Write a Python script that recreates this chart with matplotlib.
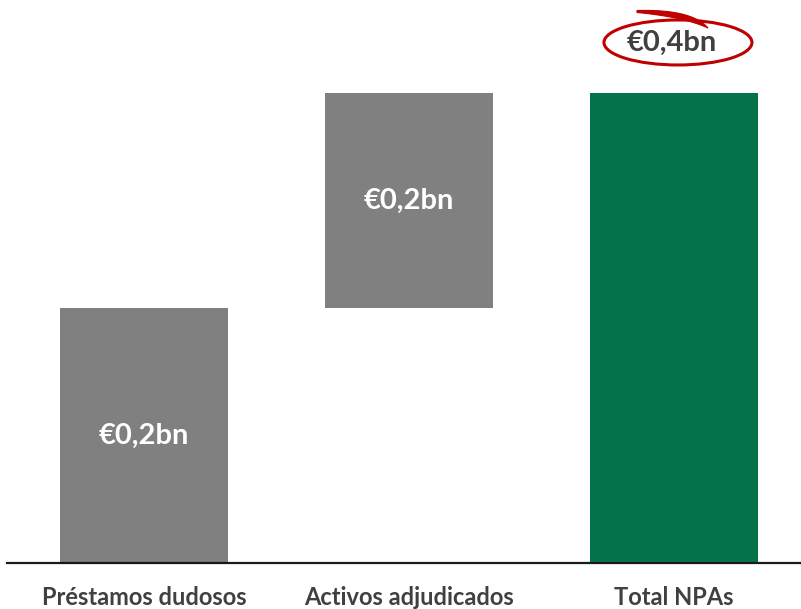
import matplotlib
matplotlib.use("Agg")
import numpy as np
import matplotlib.pyplot as plt
from matplotlib.patches import Ellipse

plt.rcParams['font.family'] = ['Lato', 'DejaVu Sans']

# data
categories = ["Préstamos dudosos", "Activos adjudicados", "Total NPAs"]
values = [0.217, 0.183, 0.4]
bottoms = [0, 0.217, 0]
bar_labels = ["€0,2bn", "€0,2bn", None]
total_label = "€0,4bn"
colors = ["#808080", "#808080", "#04734A"]

fig = plt.figure(figsize=(8.01, 6.09), dpi=100)
ax = fig.add_axes([7 / 801, 46 / 609, 794 / 801, 563 / 609])

x = range(len(categories))
ax.bar(x, values, bottom=bottoms, width=168 / 265, color=colors)

for i in x:
    if bar_labels[i]:
        ax.text(i, bottoms[i] + values[i] / 2, bar_labels[i], ha="center", va="center",
                color="white", fontsize=21, fontweight="bold")
    ax.text(i, -0.029, categories[i], ha="center", va="center",
            color="#404040", fontsize=17, fontweight="bold")

# total label with red hand-drawn ellipse
ty = values[2] + 0.043
ax.text(1.99, ty, total_label, ha="center", va="center", color="#404040",
        fontsize=21, fontweight="bold")
ax.add_patch(Ellipse((2.015, ty), 148 / 265, 0.4 * 45 / 470, fill=False,
                     edgecolor="#C00000", lw=2.2))


# swoosh (pixel coords from the top-left, turned into data coords)
def to_data(px, py):
    return (px - 144) / 265, (563 - py) * 0.4 / 470


def bez(p0, c, p2, n=25):
    t = np.linspace(0, 1, n)[:, None]
    return (1 - t) ** 2 * np.array(p0) + 2 * (1 - t) * t * np.array(c) + t ** 2 * np.array(p2)


edge = np.vstack([bez((637, 10.5), (692, 9), (708, 28)),
                  bez((708, 28), (684, 17), (637, 12.5))])
dx, dy = to_data(edge[:, 0], edge[:, 1])
ax.fill(dx, dy, color="#C00000", lw=0.8, ec="#C00000")

ax.set_xlim(-137 / 265, 657 / 265)
ax.set_ylim(0, 0.4 * 563 / 470)
for s in ["top", "right", "left"]:
    ax.spines[s].set_visible(False)
ax.spines["bottom"].set_linewidth(1.6)
ax.spines["bottom"].set_color("#1a1a1a")
ax.set_xticks([])
ax.set_yticks([])

fig.savefig("out.png", dpi=100)
